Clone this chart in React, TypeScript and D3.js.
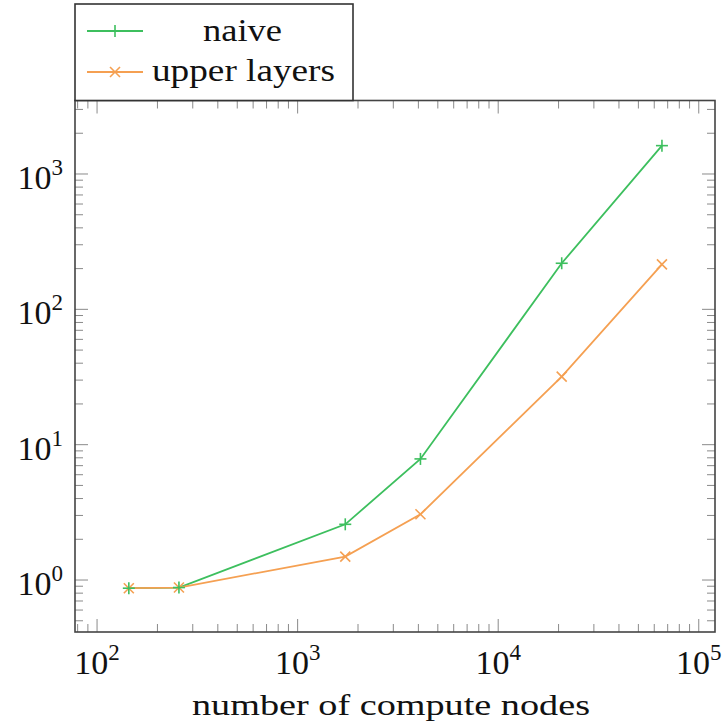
import React from "react";
import * as d3 from "d3";

const nodes = [144, 256, 1728, 4096, 20736, 65536];
const naive = [0.87, 0.88, 2.58, 7.85, 219, 1620];
const upperLayers = [0.87, 0.88, 1.49, 3.06, 31.8, 215];
const xTickExps = [2, 3, 4, 5];
const yTickExps = [0, 1, 2, 3];
const seriesNames = ["naive", "upper layers"];

const W = 727, H = 726;
const L = 75, R = 715, T = 100.5, B = 632;
const GREEN = "#3dbf5e";
const ORANGE = "#f5a052";
const FONT = "'Liberation Serif', 'Times New Roman', serif";

export default function App() {
  const x = d3.scaleLog().domain([Math.pow(10, 1.89), Math.pow(10, 5.081)]).range([L, R]);
  const y = d3.scaleLog().domain([Math.pow(10, -0.384), Math.pow(10, 3.543)]).range([B, T]);
  const line = d3.line<[number, number]>().x(d => x(d[0])).y(d => y(d[1]));

  const xMinor: number[] = [];
  for (let e = 1; e <= 5; e++) for (let m = 2; m <= 9; m++) {
    const v = m * Math.pow(10, e);
    if (x(v) > L + 0.5 && x(v) < R - 0.5) xMinor.push(v);
  }
  const yMinor: number[] = [];
  for (let e = -1; e <= 3; e++) for (let m = 2; m <= 9; m++) {
    const v = m * Math.pow(10, e);
    if (y(v) < B - 0.5 && y(v) > T + 0.5) yMinor.push(v);
  }
  const MAJ = 13, MIN = 8;
  const tickColor = "#8a8a8a";

  const plus = (cx: number, cy: number, c: string, k: string) => (
    <g key={k} stroke={c} strokeWidth={1.6}>
      <line x1={cx - 6} x2={cx + 6} y1={cy} y2={cy} />
      <line x1={cx} x2={cx} y1={cy - 6} y2={cy + 6} />
    </g>
  );
  const cross = (cx: number, cy: number, c: string, k: string) => (
    <g key={k} stroke={c} strokeWidth={1.6}>
      <line x1={cx - 5} x2={cx + 5} y1={cy - 5} y2={cy + 5} />
      <line x1={cx - 5} x2={cx + 5} y1={cy + 5} y2={cy - 5} />
    </g>
  );

  const naivePts = nodes.map((n, i) => [n, naive[i]] as [number, number]);
  const upperPts = nodes.map((n, i) => [n, upperLayers[i]] as [number, number]);

  return (
    <svg width={W} height={H} style={{ position: "absolute", left: 0, top: 0, background: "#fff" }}
      fontFamily={FONT}>
      <rect x={0} y={0} width={W} height={H} fill="#fff" />
      <g stroke={tickColor} strokeWidth={1}>
        {xMinor.map((v, i) => (
          <g key={"xm" + i}>
            <line x1={x(v)} x2={x(v)} y1={B} y2={B - MIN} />
            <line x1={x(v)} x2={x(v)} y1={T} y2={T + MIN} />
          </g>
        ))}
        {yMinor.map((v, i) => (
          <g key={"ym" + i}>
            <line x1={L} x2={L + MIN} y1={y(v)} y2={y(v)} />
            <line x1={R} x2={R - MIN} y1={y(v)} y2={y(v)} />
          </g>
        ))}
        {xTickExps.map(e => (
          <g key={"xM" + e}>
            <line x1={x(Math.pow(10, e))} x2={x(Math.pow(10, e))} y1={B} y2={B - MAJ} />
            <line x1={x(Math.pow(10, e))} x2={x(Math.pow(10, e))} y1={T} y2={T + MAJ} />
          </g>
        ))}
        {yTickExps.map(e => (
          <g key={"yM" + e}>
            <line x1={L} x2={L + MAJ} y1={y(Math.pow(10, e))} y2={y(Math.pow(10, e))} />
            <line x1={R} x2={R - MAJ} y1={y(Math.pow(10, e))} y2={y(Math.pow(10, e))} />
          </g>
        ))}
      </g>
      <path d={line(naivePts) || ""} fill="none" stroke={GREEN} strokeWidth={1.8} />
      <path d={line(upperPts) || ""} fill="none" stroke={ORANGE} strokeWidth={1.8} />
      {upperPts.map((p, i) => cross(x(p[0]), y(p[1]), ORANGE, "u" + i))}
      {naivePts.map((p, i) => plus(x(p[0]), y(p[1]), GREEN, "n" + i))}
      <rect x={L} y={T} width={R - L} height={B - T} fill="none" stroke="#444" strokeWidth={1.6} />
      {xTickExps.map(e => (
        <text key={"xl" + e} x={x(Math.pow(10, e))} y={674} textAnchor="middle" fontSize={34} fill="#111">
          10<tspan fontSize={23} dy={-14}>{e}</tspan>
        </text>
      ))}
      {yTickExps.map(e => (
        <text key={"yl" + e} x={63} y={y(Math.pow(10, e)) + 15} textAnchor="end" fontSize={34} fill="#111">
          10<tspan fontSize={23} dy={-14}>{e}</tspan>
        </text>
      ))}
      <text x={391} y={715} textAnchor="middle" fontSize={30} fill="#111"
        textLength={398} lengthAdjust="spacingAndGlyphs">number of compute nodes</text>
      <rect x={75} y={4} width={278} height={96.5} fill="#fff" stroke="#333" strokeWidth={1.6} />
      <line x1={87} x2={143} y1={31} y2={31} stroke={GREEN} strokeWidth={1.8} />
      {plus(115, 31, GREEN, "lg1")}
      <text x={242.5} y={41} textAnchor="middle" fontSize={31} fill="#111"
        textLength={79} lengthAdjust="spacingAndGlyphs">{seriesNames[0]}</text>
      <line x1={87} x2={143} y1={72} y2={72} stroke={ORANGE} strokeWidth={1.8} />
      {cross(115, 72, ORANGE, "lg2")}
      <text x={152} y={81} fontSize={31} fill="#111"
        textLength={183} lengthAdjust="spacingAndGlyphs">{seriesNames[1]}</text>
    </svg>
  );
}
